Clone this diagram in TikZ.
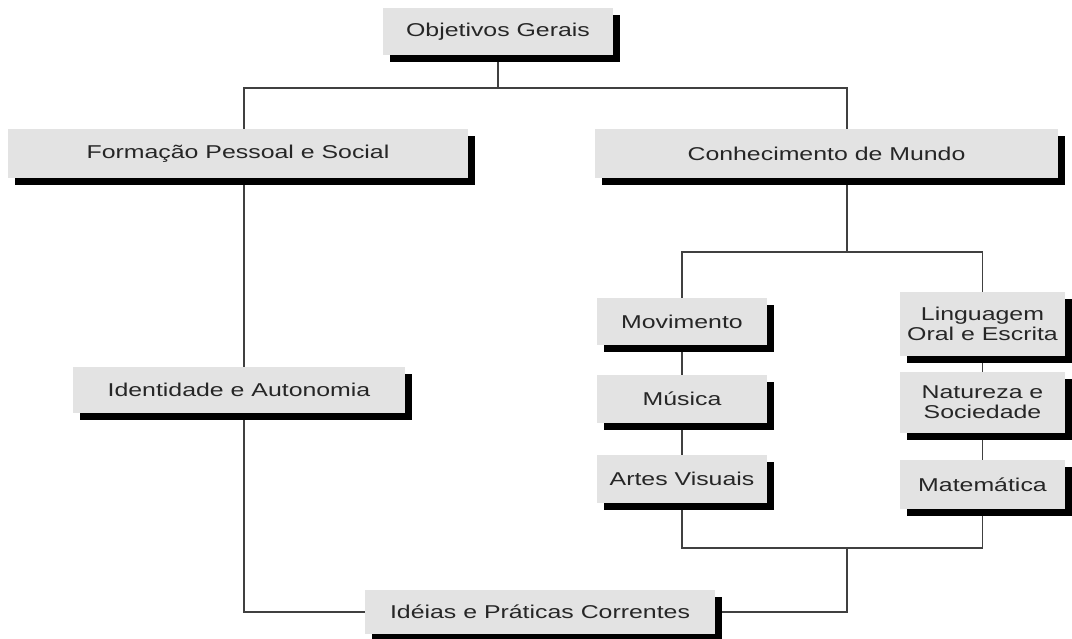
\documentclass[tikz,border=0pt]{standalone}
\usepackage{fontspec}
\setmainfont{Liberation Sans}[FakeStretch=1.34]
\usetikzlibrary{shadows,backgrounds}

\begin{document}
\begin{tikzpicture}[x=0.025cm,y=-0.025cm,
    caixa/.style={fill=black!11, text=black!85, align=center, inner sep=0pt,
        font=\fontsize{13.2}{14.5}\selectfont,
        drop shadow={shadow xshift=0.175cm,shadow yshift=-0.175cm,fill=black,opacity=1}},
    liga/.style={draw=black!75, line width=1.3pt}]
    \useasboundingbox (0,0) rectangle (1072,638);

    \node[caixa, minimum width=5.75cm, minimum height=1.175cm] (objetivos) at (498,31.5) {Objetivos Gerais};
    \node[caixa, minimum width=11.5cm, minimum height=1.225cm] (formacao) at (238,153.5) {Formação Pessoal e Social};
    \node[caixa, minimum width=11.575cm, minimum height=1.225cm] (conhecimento) at (826.5,153.5) {Conhecimento de Mundo};
    \node[caixa, minimum width=8.3cm, minimum height=1.15cm] (identidade) at (239,390) {Identidade e Autonomia};

    \node[caixa, minimum width=4.25cm, minimum height=1.175cm] (movimento) at (682,321.5) {Movimento};
    \node[caixa, minimum width=4.25cm, minimum height=1.2cm] (musica) at (682,399) {Música};
    \node[caixa, minimum width=4.25cm, minimum height=1.2cm] (artes) at (682,479) {Artes Visuais};

    \node[caixa, minimum width=4.125cm, minimum height=1.6cm] (linguagem) at (982.5,324) {Linguagem\\Oral e Escrita};
    \node[caixa, minimum width=4.125cm, minimum height=1.525cm] (natureza) at (982.5,402.5) {Natureza e\\Sociedade};
    \node[caixa, minimum width=4.125cm, minimum height=1.225cm] (matematica) at (982.5,484.5) {Matemática};

    \node[caixa, minimum width=8.75cm, minimum height=1.1cm] (ideias) at (540,612) {Idéias e Práticas Correntes};

    \coordinate (esq) at (244,88);
    \coordinate (dir) at (847,88);
    \coordinate (meio) at (847,252);
    \coordinate (baixo) at (847,548);

    \begin{scope}[on background layer]
        \draw[liga] (objetivos.south) -- (objetivos.south |- esq);
        \draw[liga] (formacao.north -| esq) |- (dir) -- (conhecimento.north -| dir);
        \draw[liga] (formacao.south -| esq) -- (identidade.north -| esq);
        \draw[liga] (identidade.south -| esq) |- (ideias.west);
        \draw[liga] (conhecimento.south -| meio) -- (meio);
        \draw[liga] (movimento.north) |- (meio) -| (linguagem.north);
        \draw[liga] (movimento) -- (musica) -- (artes);
        \draw[liga] (linguagem) -- (natureza) -- (matematica);
        \draw[liga] (artes.south) |- (baixo) -| (matematica.south);
        \draw[liga] (baixo) |- (ideias.east);
    \end{scope}
\end{tikzpicture}
\end{document}
